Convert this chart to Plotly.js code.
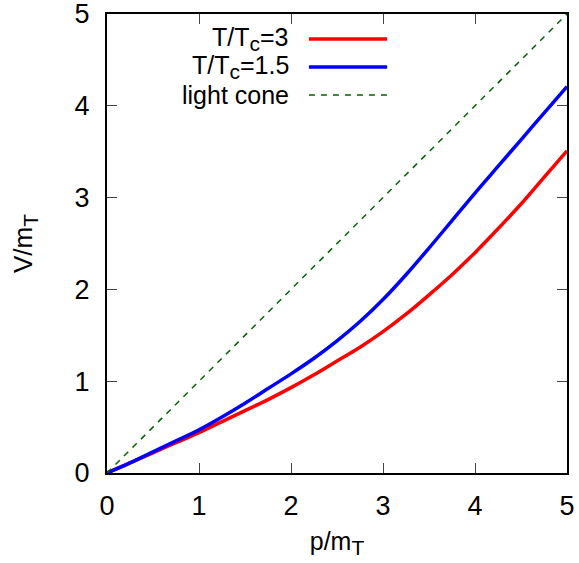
<!DOCTYPE html>
<html>
<head>
<meta charset="utf-8">
<script src="https://cdn.plot.ly/plotly-3.0.1.min.js"></script>
<style>html,body{margin:0;padding:0;background:#fff;}#chart{width:579px;height:563px;}</style>
</head>
<body>
<div id="chart"></div>
<script>
// data
const pValues = [0, 0.25, 0.5, 0.75, 1, 1.25, 1.5, 1.75, 2, 2.25, 2.5, 2.75, 3, 3.25, 3.5, 3.75, 4, 4.25, 4.5, 4.75, 5];
const vT3 =  [0, 0.11, 0.22, 0.33, 0.44, 0.56, 0.68, 0.80, 0.93, 1.07, 1.22, 1.37, 1.54, 1.73, 1.94, 2.16, 2.40, 2.66, 2.93, 3.22, 3.51];
const vT15 = [0, 0.11, 0.23, 0.35, 0.47, 0.61, 0.76, 0.92, 1.08, 1.25, 1.44, 1.65, 1.89, 2.16, 2.45, 2.75, 3.05, 3.34, 3.63, 3.92, 4.21];
const coneP = [0, 5];
const coneV = [0, 5];
const sub = s => '<sub><span style="font-size:21px">' + s + '</span></sub>';
const seriesNames = ['T/T' + sub('c') + '=3', 'T/T' + sub('c') + '=1.5', 'light cone'];
const tickVals = [0, 1, 2, 3, 4, 5];
const xTitle = 'p/m' + sub('T');
const yTitle = 'V/m' + sub('T');

const font = 'Liberation Sans, Arial, Helvetica, sans-serif';
const traces = [
  {x: pValues, y: vT3, mode: 'lines', line: {color: '#ff0000', width: 3.5, shape: 'spline', smoothing: 1}, name: seriesNames[0]},
  {x: pValues, y: vT15, mode: 'lines', line: {color: '#0000ff', width: 3.5, shape: 'spline', smoothing: 1}, name: seriesNames[1]},
  {x: coneP, y: coneV, mode: 'lines', line: {color: '#006400', width: 1.5, dash: '6px,6px'}, name: seriesNames[2]}
];

const legendColors = ['#ff0000', '#0000ff', '#006400'];
const legendWidths = [3.5, 3.5, 1.5];
const legendDash = ['solid', 'solid', '6px,6px'];
const rowY = [0.9455, 0.8845, 0.8235];
const annotations = seriesNames.map((t, i) => ({
  xref: 'paper', yref: 'paper', x: 0.40, y: rowY[i], xanchor: 'right', yanchor: 'middle',
  text: t, showarrow: false, font: {family: font, size: 25, color: '#000'}
}));
const shapes = seriesNames.map((t, i) => ({
  type: 'line', xref: 'paper', yref: 'paper', x0: 0.439, x1: 0.609, y0: rowY[i], y1: rowY[i],
  line: {color: legendColors[i], width: legendWidths[i], dash: legendDash[i]}
}));

const axisCommon = {
  range: [0, 5], tickvals: tickVals, ticks: 'inside', ticklen: 10, tickwidth: 1, tickcolor: '#444',
  showline: true, linecolor: '#000', linewidth: 2, mirror: 'ticks', showgrid: false, zeroline: false,
  ticklabeloverflow: 'allow',
  tickfont: {family: font, size: 27, color: '#000'}
};

const layout = {
  width: 579, height: 563,
  margin: {l: 107, r: 12, t: 14, b: 90},
  paper_bgcolor: '#fff', plot_bgcolor: '#fff',
  showlegend: false,
  xaxis: Object.assign({}, axisCommon, {ticklabelstandoff: 8, title: {text: xTitle, font: {family: font, size: 25, color: '#000'}, standoff: 12}}),
  yaxis: Object.assign({}, axisCommon, {ticklabelstandoff: 10, title: {text: yTitle, font: {family: font, size: 26, color: '#000'}, standoff: 34}}),
  annotations: annotations,
  shapes: shapes
};

Plotly.newPlot('chart', traces, layout, {staticPlot: true, displayModeBar: false});
</script>
</body>
</html>
